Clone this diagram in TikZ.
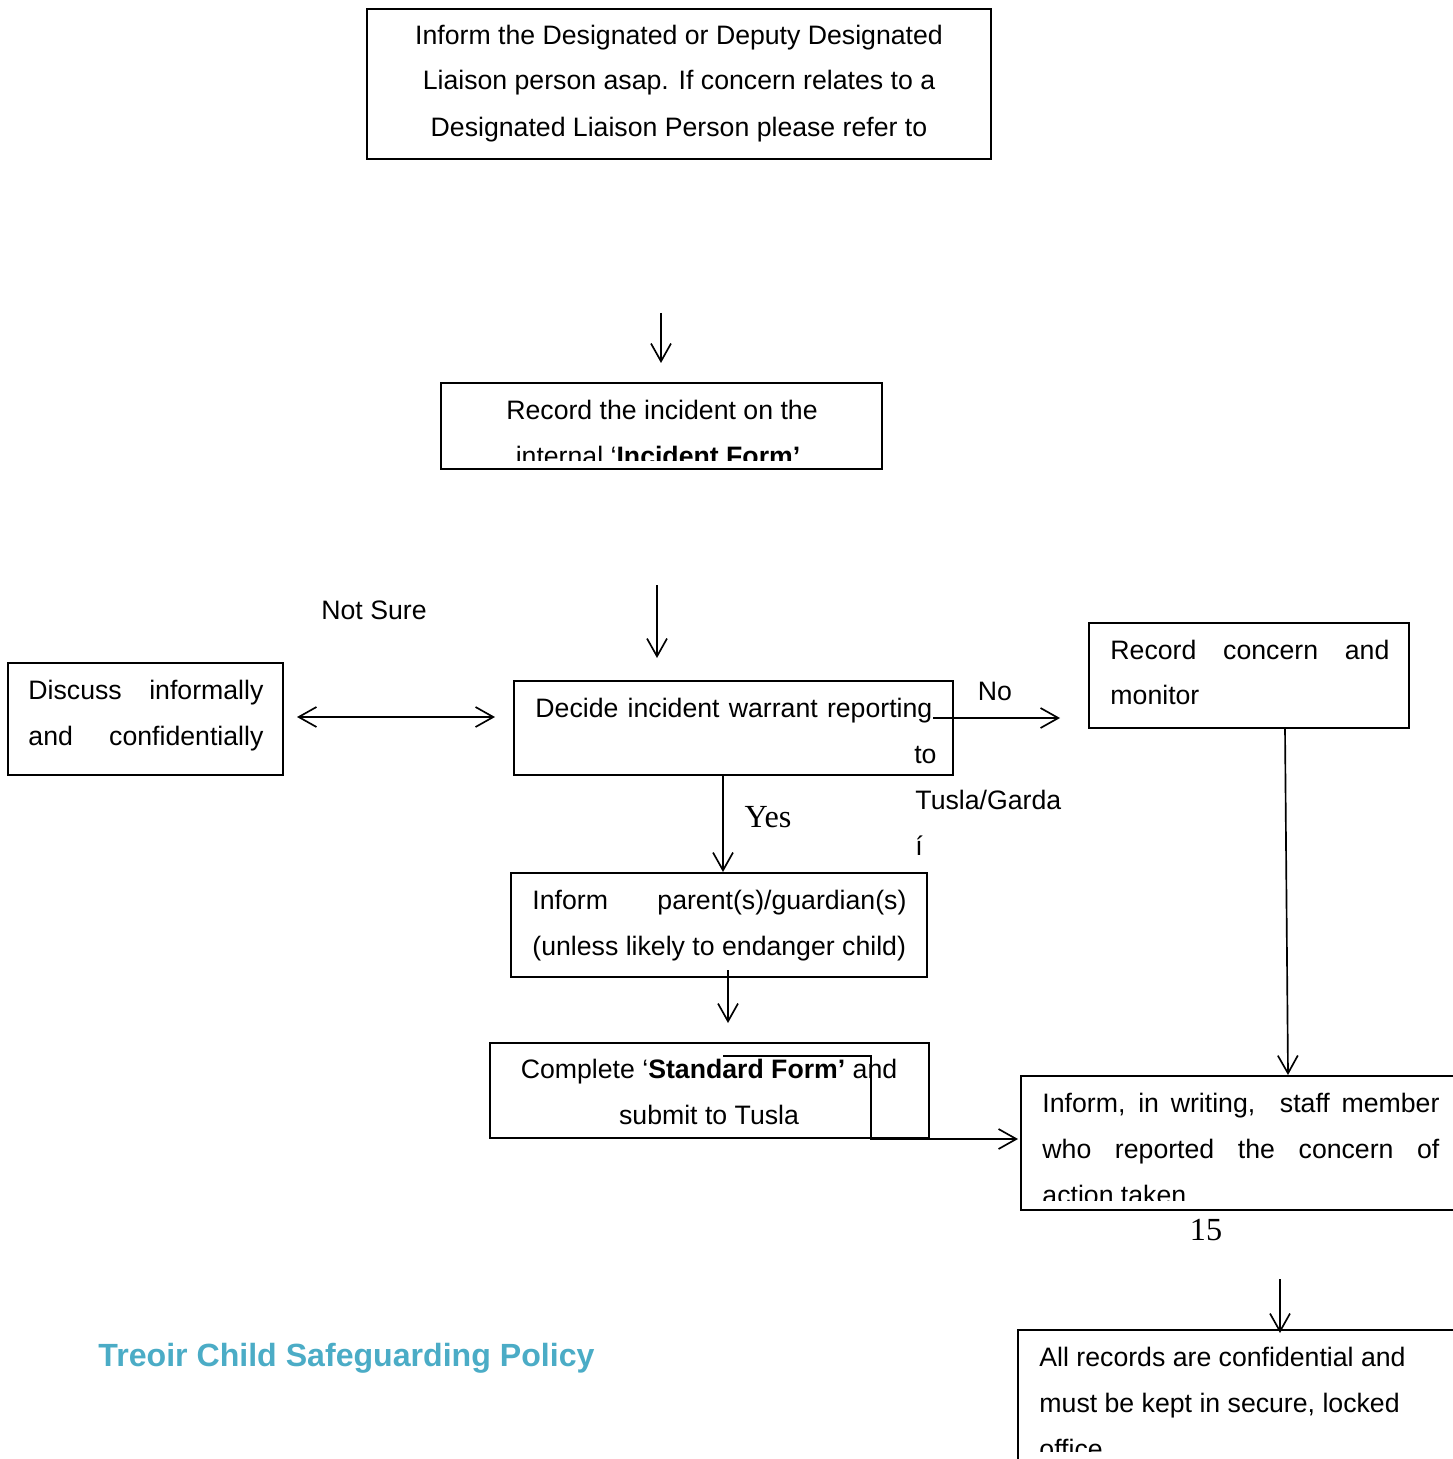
\documentclass[tikz,border=0pt]{standalone}
\usepackage{fontspec}
\setmainfont{Liberation Sans}
\newfontfamily\serifface{Liberation Serif}
\usetikzlibrary{arrows.meta,fit}
\definecolor{titleteal}{RGB}{75,172,198}
\begin{document}
\begin{tikzpicture}[x=0.45pt,y=-0.45pt,
  box/.style={draw, line width=0.8pt, inner sep=0pt},
  txt/.style={inner sep=0pt, anchor=base, font=\fontsize{12}{14}\selectfont},
  txtl/.style={txt, anchor=base west},
  txtr/.style={txt, anchor=base east},
  arr/.style={line width=0.75pt, -{Straight Barb[length=8pt,width=9pt]}},
  darr/.style={line width=0.75pt, {Straight Barb[length=8pt,width=9pt]}-{Straight Barb[length=8pt,width=9pt]}}]
\useasboundingbox (0,0) rectangle (1453,1459);
\clip (0,0) rectangle (1453,1459);

% ---------- boxes ----------
\node[box, fit={(367,9) (991,159)}] (inform) {};
\node[box, fit={(441,383) (882,469)}] (record) {};
\node[box, fit={(8,663) (283,775)}] (discuss) {};
\node[box, fit={(514,681) (953,775)}] (decide) {};
\node[box, fit={(1089,623) (1409,728)}] (monitor) {};
\node[box, fit={(511,873) (927,977)}] (parent) {};
\node[box, fit={(490,1043) (929,1138)}] (standard) {};
\node[box, fit={(1021,1076) (1475,1210)}] (writing) {};
\node[box, fit={(1018,1330) (1475,1480)}] (records) {};

% ---------- texts ----------
\node[txt] (t1a) at (679,45) {Inform the Designated or Deputy Designated};
\node[txt] (t1b) at (679,90) {Liaison person asap. If concern relates to a};
\node[txt] (t1c) at (679,137) {Designated Liaison Person please refer to};

\node[txt] (t2a) at (662,419) {Record the incident on the};
\begin{scope}
  \clip (441,383) rectangle (882,460);
  \node[txt] (t2b) at (658,465) {internal ‘\textbf{Incident Form’}};
\end{scope}

\node[txt] (notsure) at (374,619) {Not Sure};

\node[txtl] (d1) at (28,699) {\makebox[105.75pt][s]{Discuss informally}};
\node[txtl] (d2) at (28,745) {\makebox[105.75pt][s]{and confidentially}};

\node[txtl] (c1) at (535,717) {\makebox[178.6pt][s]{Decide incident warrant reporting}};
\node[txtr] (c2) at (937,763) {to};
\node[txtl] (c3) at (915,809) {Tusla/Garda};
\node[txtl] (c4) at (915,855) {í};

\node[txt] (no) at (995,700) {No};

\node[txtl] (m1) at (1110,659) {\makebox[125.55pt][s]{Record concern and}};
\node[txtl] (m2) at (1110,704) {monitor};

\node[txt, font=\serifface\fontsize{14.5}{16}\selectfont] (yes) at (768,827) {Yes};

\node[txtl] (p1) at (532,909) {\makebox[168.3pt][s]{Inform parent(s)/guardian(s)}};
\node[txtl] (p2) at (532,955) {(unless likely to endanger child)};

\node[txt] (s1) at (709,1078) {Complete ‘\textbf{Standard Form’} and};
\node[txt] (s2) at (709,1124) {submit to Tusla};

\node[txtl] (w1) at (1042,1112) {\makebox[178.65pt][s]{Inform, in writing,~ staff member}};
\node[txtl] (w2) at (1042,1158) {\makebox[178.65pt][s]{who reported the concern of}};
\begin{scope}
  \clip (1021,1076) rectangle (1475,1200);
  \node[txtl] (w3) at (1042,1204) {action taken};
\end{scope}

\node[txt, font=\serifface\fontsize{14.5}{16}\selectfont] (page) at (1206,1240) {15};

\node[txtl] (r1) at (1039,1366) {All records are confidential and};
\node[txtl] (r2) at (1039,1412) {must be kept in secure, locked};
\begin{scope}
  \clip (1018,1330) rectangle (1475,1451);
  \node[txtl] (r3) at (1039,1458) {office};
\end{scope}

\node[txtl, font=\bfseries\fontsize{14.45}{16}\selectfont, text=titleteal] (title) at (98,1366) {Treoir Child Safeguarding Policy};

% ---------- connectors ----------
\coordinate (a1s) at (661,313); \coordinate (a1e) at (661,363);
\draw[arr] (a1s) -- (a1e);
\coordinate (a2s) at (657,585); \coordinate (a2e) at (657,658);
\draw[arr] (a2s) -- (a2e);
\coordinate (dl) at (297,717); \coordinate (dr) at (495,717);
\draw[darr] (dl) -- (dr);
\coordinate (nos) at (933,718); \coordinate (noe) at (1060,718);
\draw[arr] (nos) -- (noe);
\coordinate (yess) at (723,775); \coordinate (yese) at (723,872);
\draw[arr] (yess) -- (yese);
\coordinate (ps) at (728,970); \coordinate (pe) at (728,1023);
\draw[arr] (ps) -- (pe);
\coordinate (ms) at (1285,728); \coordinate (me) at (1288,1075);
\draw[arr] (ms) -- (me);
\coordinate (sa) at (723,1056); \coordinate (sb) at (871,1056);
\coordinate (sc) at (871,1139); \coordinate (sd) at (1018,1139);
\draw[arr] (sa) -- (sb) -- (sc) -- (sd);
\coordinate (rs) at (1280,1279); \coordinate (re) at (1280,1333);
\draw[arr] (rs) -- (re);
\end{tikzpicture}
\end{document}
